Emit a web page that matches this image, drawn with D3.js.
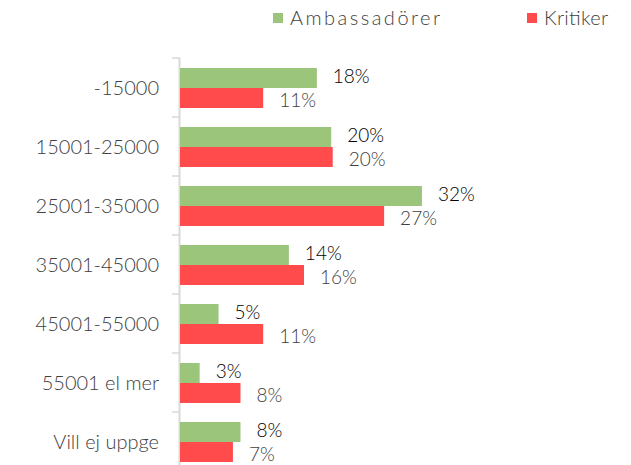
<!DOCTYPE html>
<html><head><meta charset="utf-8">
<script src="https://cdn.jsdelivr.net/npm/d3@7"></script>
<style>body{margin:0;background:#fff}svg{display:block}text{font-family:"Century Gothic","URW Gothic",Lato,sans-serif;font-weight:300}</style>
</head><body><svg id="c" width="631" height="465"></svg>
<script>
const categories = ["-15000","15001-25000","25001-35000","35001-45000","45001-55000","55001 el mer","Vill ej uppge"];
const ambassadorer = [18.1, 20.0, 32.0, 14.4, 5.1, 2.6, 8.0];
const kritiker = [11.0, 20.2, 27.0, 16.4, 11.0, 8.0, 7.0];
const seriesNames = ["Ambassadörer", "Kritiker"];
const colors = ["#9BC57B", "#FF4B4B"];

const svg = d3.select("#c");
const x = d3.scaleLinear().domain([0, 40]).range([180, 482.4]);
const y = d3.scaleBand().domain(categories).range([58, 471]);
const inner = d3.scaleBand().domain(seriesNames).range([10, 50]);
const fs = 20;

// axis line and boundary ticks
svg.append("line").attr("x1",179.5).attr("x2",179.5).attr("y1",58).attr("y2",471).attr("stroke","#D9D9D9").attr("stroke-width",2);
svg.selectAll(".tk").data(categories.concat(["_end"])).enter().append("line")
  .attr("x1",172).attr("x2",180)
  .attr("y1",(d,i)=> 58 + i*y.step()).attr("y2",(d,i)=> 58 + i*y.step())
  .attr("stroke","#D9D9D9").attr("stroke-width",1.5);

// category labels
const ax = d3.axisLeft(y).tickSize(0).tickPadding(0);
const g = svg.append("g").attr("transform","translate(159,0)").call(ax);
g.select(".domain").remove();
g.selectAll("text").attr("font-size",fs).attr("fill","#404040").attr("font-family",null).attr("dy","0.35em");

const series = [ambassadorer, kritiker];
series.forEach((vals, si) => {
  const grp = svg.append("g");
  grp.selectAll("rect").data(vals).enter().append("rect")
    .attr("x", x(0))
    .attr("y", (d,i) => y(categories[i]) + inner(seriesNames[si]))
    .attr("width", d => x(d) - x(0))
    .attr("height", inner.bandwidth())
    .attr("fill", colors[si]);
  grp.selectAll("text").data(vals).enter().append("text")
    .attr("x", d => x(d) + 16)
    .attr("y", (d,i) => y(categories[i]) + inner(seriesNames[si]) + inner.bandwidth()/2 + (si===0 ? -2 : 2))
    .attr("dy","0.35em")
    .attr("font-size", 19)
    .attr("fill", si===0 ? "#000" : "#404040")
    .text(d => Math.round(d) + "%");
});

// legend
const legX = [273, 527];
const legW = [150, 64];
seriesNames.forEach((n, i) => {
  svg.append("rect").attr("x", legX[i]).attr("y", 13).attr("width", 10).attr("height", 10).attr("fill", colors[i]);
  svg.append("text").attr("x", legX[i] + 17).attr("y", 18).attr("dy","0.35em").attr("font-size", fs)
    .attr("textLength", legW[i]).attr("lengthAdjust","spacing").attr("fill","#404040").text(n);
});
</script></body></html>
